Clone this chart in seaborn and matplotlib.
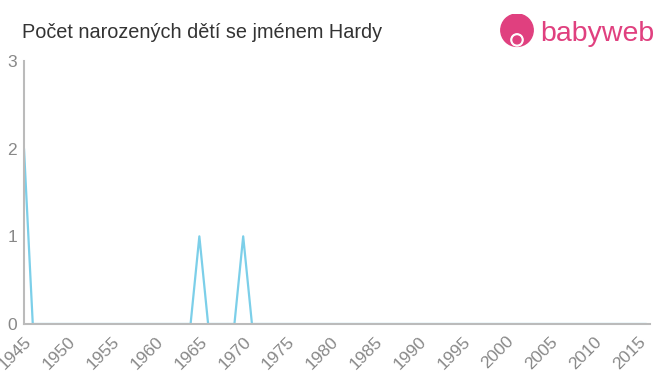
import matplotlib
matplotlib.use("Agg")
import matplotlib.pyplot as plt
import seaborn as sns
import pandas as pd
from matplotlib.patches import Circle

years = list(range(1945, 2017))
nonzero = {1945: 2, 1965: 1, 1970: 1}
counts = [nonzero.get(y, 0) for y in years]
xticks = list(range(1945, 2016, 5))
yticks = [0, 1, 2, 3]
title = "Počet narozených dětí se jménem Hardy"

sns.set_style("white")
plt.rcParams['font.family'] = ['Liberation Sans', 'DejaVu Sans']

df = pd.DataFrame({"year": years, "count": counts})
fig = plt.figure(figsize=(6.6, 3.75), dpi=100)
ax = fig.add_axes([24/660, 1-324/375, (650-24)/660, (324-61)/375])
sns.lineplot(data=df, x="year", y="count", ax=ax, color="#7ccfe9", linewidth=1.6)
ax.set_xlim(1945, 2016.4)
ax.set_ylim(0, 3)
ax.set_xticks(xticks)
ax.set_xticklabels([str(x) for x in xticks], rotation=45, ha="right", rotation_mode="anchor")
ax.set_yticks(yticks)
ax.set_xlabel("")
ax.set_ylabel("")
for s in ["top", "right"]:
    ax.spines[s].set_visible(False)
for s in ["left", "bottom"]:
    ax.spines[s].set_color("#bbbbbb")
    ax.spines[s].set_linewidth(1.5)
ax.tick_params(axis="both", colors="#bbbbbb", length=5, width=1.5, labelcolor="#888888", labelsize=12.5)
ax.tick_params(axis="x", pad=2)
ax.tick_params(axis="y", pad=2, length=3)

fig.text(22/660, 1-32/375, title, fontsize=14.3, color="#333333", va="center", ha="left")
# logo
fig.text(540/660, 1-34/375, "babyweb", fontsize=20.5, color="#e0407f", va="center", ha="left")
lax = fig.add_axes([499/660, 1-50/375, 36/660, 36/375])
lax.set_xlim(0, 1); lax.set_ylim(0, 1); lax.axis("off")
lax.add_patch(Circle((0.5, 0.55), 0.45, color="#e0407f"))
lax.add_patch(Circle((0.5, 0.28), 0.17, color="white"))
lax.add_patch(Circle((0.5, 0.28), 0.11, color="#e0407f"))
fig.savefig("out.png", dpi=100)
